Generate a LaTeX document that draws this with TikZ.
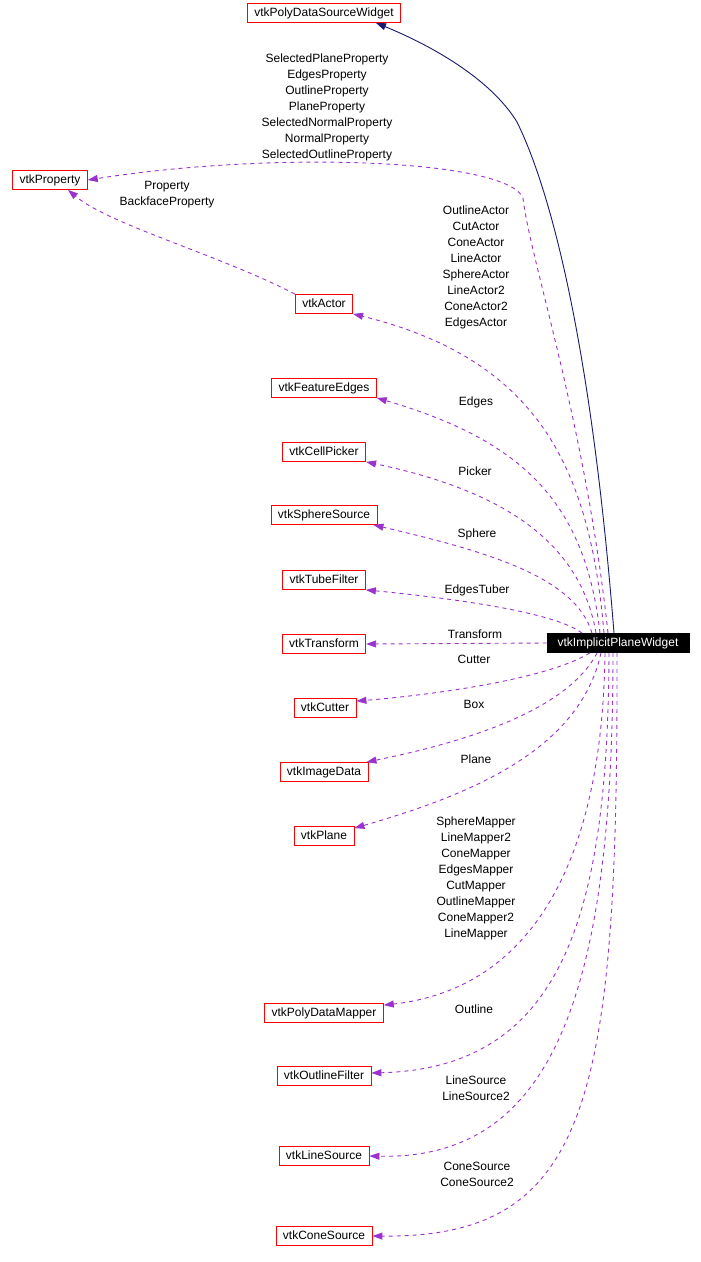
\documentclass[tikz,border=0pt]{standalone}
\usepackage{fontspec}
\setmainfont{Liberation Sans}
\usetikzlibrary{arrows.meta}
\definecolor{dxpurple}{HTML}{9A32CD}
\definecolor{dxnavy}{HTML}{191970}

\begin{document}
\begin{tikzpicture}[x=1pt,y=-1pt,
  cls/.style={draw=red,line width=0.8pt,inner xsep=7pt,inner ysep=0pt,text height=9pt,text depth=2.5pt,minimum height=19pt,font=\fontsize{12}{14}\selectfont},
  usage/.style={dxpurple,line width=0.9pt,dash pattern=on 4pt off 4pt,-{Triangle[length=10pt,width=7pt]}},
  inherit/.style={dxnavy,line width=0.9pt,-{Triangle[length=10pt,width=7pt]}},
  lbl/.style={font=\fontsize{12}{16}\selectfont,align=center,inner sep=0pt}]
  \useasboundingbox[fill=white] (0,0) rectangle (701,1262);
  % classes
  \node[cls] (pdsw) at (324,13) {vtkPolyDataSourceWidget};
  \node[cls] (prop) at (50,180) {vtkProperty};
  \node[cls] (actor) at (324,304) {vtkActor};
  \node[cls] (fedges) at (324,388) {vtkFeatureEdges};
  \node[cls] (picker) at (324,452) {vtkCellPicker};
  \node[cls] (sphere) at (324,515) {vtkSphereSource};
  \node[cls] (tuber) at (324,580) {vtkTubeFilter};
  \node[cls] (transform) at (324,644) {vtkTransform};
  \node[cls,draw=black,fill=black,text=white,minimum width=142pt] (piw) at (618,643) {vtkImplicitPlaneWidget};
  \node[cls] (cutter) at (325,708) {vtkCutter};
  \node[cls] (imgdata) at (324,772) {vtkImageData};
  \node[cls] (plane) at (324,836) {vtkPlane};
  \node[cls] (mapper) at (324,1013) {vtkPolyDataMapper};
  \node[cls] (outline) at (324,1076) {vtkOutlineFilter};
  \node[cls] (linesrc) at (324,1156) {vtkLineSource};
  \node[cls] (conesrc) at (324,1236) {vtkConeSource};
  % labels
  \node[lbl] (lprop) at (327,107) {SelectedPlaneProperty\\EdgesProperty\\OutlineProperty\\PlaneProperty\\SelectedNormalProperty\\NormalProperty\\SelectedOutlineProperty};
  \node[lbl] (lback) at (167,195) {Property\\BackfaceProperty};
  \node[lbl] (lactor) at (476,267) {OutlineActor\\CutActor\\ConeActor\\LineActor\\SphereActor\\LineActor2\\ConeActor2\\EdgesActor};
  \node[lbl] (ledges) at (476,402) {Edges};
  \node[lbl] (lpicker) at (475,471) {Picker};
  \node[lbl] (lsphere) at (477,534) {Sphere};
  \node[lbl] (ltuber) at (477,590) {EdgesTuber};
  \node[lbl] (ltransform) at (475,634) {Transform};
  \node[lbl] (lcutter) at (474,659) {Cutter};
  \node[lbl] (lbox) at (474,704) {Box};
  \node[lbl] (lplane) at (476,759) {Plane};
  \node[lbl] (lmapper) at (476,878) {SphereMapper\\LineMapper2\\ConeMapper\\EdgesMapper\\CutMapper\\OutlineMapper\\ConeMapper2\\LineMapper};
  \node[lbl] (loutline) at (474,1009) {Outline};
  \node[lbl] (lline) at (476,1088) {LineSource\\LineSource2};
  \node[lbl] (lcone) at (477,1174) {ConeSource\\ConeSource2};
  % connectors
  \draw[inherit] ([xshift=-4pt]piw.north) .. controls (590,330) and (548,185) .. (517,122)
    .. controls (490,78) and (430,45) .. ([xshift=52pt]pdsw.south);
  \draw[usage] ([xshift=-10pt]piw.north) .. controls (585,420) and (530,260) .. (523,198)
    .. controls (508,160) and (280,150) .. (prop.east);
  \draw[usage] (actor.north west) .. controls (220,255) and (110,225) .. ([xshift=18pt]prop.south);
  \draw[usage] ([xshift=-14pt]piw.north) .. controls (590,470) and (540,360) .. (actor.south east);
  \draw[usage] ([xshift=-18pt]piw.north) .. controls (585,500) and (520,440) .. (fedges.south east);
  \draw[usage] ([xshift=-22pt]piw.north) .. controls (580,540) and (500,490) .. (picker.south east);
  \draw[usage] ([xshift=-26pt]piw.north) .. controls (575,575) and (480,550) .. ([xshift=-4pt]sphere.south east);
  \draw[usage] ([xshift=-36pt]piw.north) .. controls (555,612) and (450,598) .. (tuber.south east);
  \draw[usage] (piw.west) -- (transform.east);
  \draw[usage] ([xshift=-28pt]piw.south) .. controls (545,680) and (430,695) .. ([yshift=-3pt]cutter.north east);
  \draw[usage] ([xshift=-21pt]piw.south) .. controls (565,715) and (450,745) .. ([xshift=-2pt]imgdata.north east);
  \draw[usage] ([xshift=-17pt]piw.south) .. controls (580,750) and (470,795) .. ([yshift=-2pt]plane.north east);
  \draw[usage] ([xshift=-13pt]piw.south) .. controls (602,880) and (520,990) .. ([yshift=-2pt]mapper.north east);
  \draw[usage] ([xshift=-9pt]piw.south) .. controls (608,920) and (560,1068) .. ([yshift=3pt]outline.east);
  \draw[usage] ([xshift=-5pt]piw.south) .. controls (613,1000) and (550,1160) .. (linesrc.east);
  \draw[usage] ([xshift=-1pt]piw.south) .. controls (618,1100) and (590,1238) .. (conesrc.east);
\end{tikzpicture}
\end{document}
